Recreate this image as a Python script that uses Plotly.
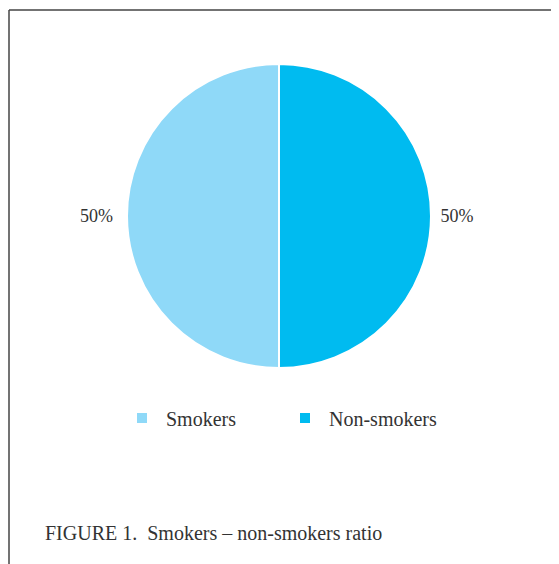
import plotly.graph_objects as go

labels = ["Smokers", "Non-smokers"]
values = [50, 50]
colors = ["#8fd9f8", "#00bbf0"]
caption = "FIGURE 1.  Smokers – non-smokers ratio"

W, H = 559, 564
OFF = 8  # page offset of the plot div
FONT = "Liberation Serif"
NB = "\u00a0"

def px_x(x):
    return (x - OFF) / W

def px_y(y):
    return 1 - (y - OFF) / H

fig = go.Figure()
fig.add_trace(go.Pie(
    labels=labels,
    values=values,
    sort=False,
    direction="clockwise",
    rotation=180,
    marker=dict(colors=colors, line=dict(color="white", width=2)),
    textinfo="percent",
    textposition="outside",
    texttemplate=["%{percent:.0%}" + NB * 2, NB + "%{percent:.0%}"],
    textfont=dict(family=FONT, size=18, color="#333333"),
    domain=dict(x=[0, 2 * px_x(279)], y=[px_y(368), px_y(64)]),
    hoverinfo="label+percent",
))

fig.update_layout(
    width=W, height=H,
    margin=dict(l=0, r=0, t=0, b=0, autoexpand=False),
    paper_bgcolor="white",
    plot_bgcolor="white",
    showlegend=True,
    legend=dict(
        orientation="h",
        x=px_x(118), xanchor="left",
        y=px_y(418), yanchor="middle",
        font=dict(family=FONT, size=20, color="#333333"),
        itemwidth=38,
        entrywidth=110,
        traceorder="normal",
    ),
    shapes=[
        dict(type="line", xref="paper", yref="paper",
             x0=px_x(9), y0=px_y(10), x1=1, y1=px_y(10),
             line=dict(color="#444444", width=1.5)),
        dict(type="line", xref="paper", yref="paper",
             x0=px_x(9), y0=px_y(10), x1=px_x(9), y1=0,
             line=dict(color="#444444", width=1.5)),
    ],
    annotations=[
        dict(text=caption, xref="paper", yref="paper",
             x=px_x(43), y=px_y(533), xanchor="left", yanchor="middle",
             showarrow=False,
             font=dict(family=FONT, size=20, color="#333333")),
    ],
)

fig.write_html("out.html")
